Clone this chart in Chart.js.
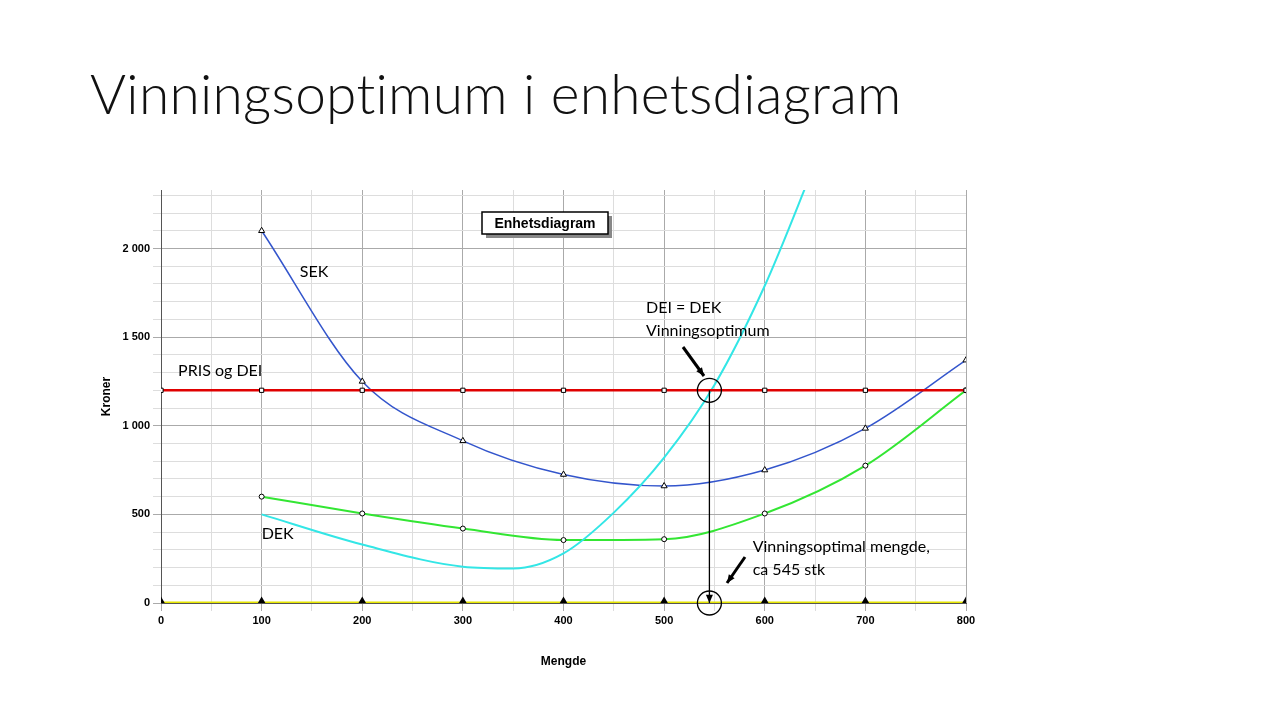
<!DOCTYPE html>
<html><head><meta charset="utf-8">
<script src="https://cdn.jsdelivr.net/npm/chart.js@4.4.0/dist/chart.umd.min.js"></script>
<style>
body{margin:0;background:#fff;width:1280px;height:720px;overflow:hidden;position:relative}
h1{position:absolute;left:90px;top:60px;margin:0;font:300 55px Lato,"Open Sans",sans-serif;color:#111;letter-spacing:0.3px}
#wrap{position:absolute;left:0;top:0;width:1280px;height:720px}
</style></head><body>
<h1>Vinningsoptimum i enhetsdiagram</h1>
<div id="wrap"><canvas id="c"></canvas></div>
<script>
const qtyMarks=[0,100,200,300,400,500,600,700,800];
const sek=[null,2100,1250,915,725,660,750,985,1370];
const dek=[null,600,505,420,355,360,505,775,1200];
const price=[1200,1200,1200,1200,1200,1200,1200,1200,1200];
const zero=[0,0,0,0,0,0,0,0,0];
const gekX=[100,200,300,350,400,450,500,550,600,650];
const gekY=[500,330,205,195,280,510,820,1230,1790,2480];
const optQty=545;

const pts=(xs,ys)=>xs.map((x,i)=>({x,y:ys[i]})).filter(p=>p.y!==null);

const ann={id:'ann',afterDatasetsDraw(ch){
 const c=ch.ctx,X=v=>ch.scales.x.getPixelForValue(v),Y=v=>ch.scales.y.getPixelForValue(v);
 c.save();
 c.fillStyle='#888';c.fillRect(486,216,126,22);
 c.fillStyle='#fff';c.strokeStyle='#000';c.lineWidth=1.5;c.fillRect(482,212,126,22);c.strokeRect(482,212,126,22);
 c.fillStyle='#000';c.font='bold 14px "Liberation Sans",Arial';c.textAlign='center';c.textBaseline='middle';c.fillText('Enhetsdiagram',545,224);
 c.font='16px Lato,"Open Sans",sans-serif';c.textAlign='left';
 c.fillText('SEK',X(138),Y(1870));
 c.fillText('PRIS og DEI',X(17),Y(1311));
 c.fillText('DEK',X(100),Y(390));
 c.fillText('DEI = DEK',X(482),Y(1667));
 c.fillText('Vinningsoptimum',X(482),Y(1537));
 c.fillText('Vinningsoptimal mengde,',X(588),Y(316));
 c.fillText('ca 545 stk',X(588),Y(186));
 c.strokeStyle='#000';c.lineWidth=1.3;
 [[X(optQty),Y(1200)],[X(optQty),Y(0)]].forEach(([x,y])=>{c.beginPath();c.arc(x,y,12,0,Math.PI*2);c.stroke();});
 function arrow(x1,y1,x2,y2,w){c.lineWidth=w;c.beginPath();c.moveTo(x1,y1);c.lineTo(x2,y2);c.stroke();
  const a=Math.atan2(y2-y1,x2-x1);c.beginPath();c.moveTo(x2,y2);c.lineTo(x2-9*Math.cos(a-0.4),y2-9*Math.sin(a-0.4));c.lineTo(x2-9*Math.cos(a+0.4),y2-9*Math.sin(a+0.4));c.closePath();c.fill();}
 arrow(X(optQty),Y(1200),X(optQty),Y(0),1.3);
 arrow(683,347,704,376,3);
 arrow(745,557,727,583,3);
 c.restore();
}};

new Chart(document.getElementById('c'),{
 type:'line',
 data:{datasets:[
  {data:pts(qtyMarks,zero),borderColor:'#e6e600',borderWidth:3,pointStyle:'triangle',pointRadius:3.5,pointBackgroundColor:'#000',pointBorderColor:'#000'},
  {data:pts(qtyMarks,zero),borderColor:'#000',borderWidth:1.5,borderDash:[5,4],pointRadius:0},
  {data:pts(qtyMarks,price),borderColor:'#e00000',borderWidth:2.5,pointStyle:'rect',pointRadius:3,pointBackgroundColor:'#fff',pointBorderColor:'#000',pointBorderWidth:1},
  {data:pts(qtyMarks,price),borderColor:'#000',borderWidth:1,borderDash:[5,4],pointRadius:0},
  {data:pts(gekX,gekY),borderColor:'#33e6e6',borderWidth:2,pointRadius:0,cubicInterpolationMode:'monotone'},
  {data:pts(qtyMarks,dek),borderColor:'#33e633',borderWidth:2,pointStyle:'circle',pointRadius:2.5,pointBackgroundColor:'#fff',pointBorderColor:'#000',pointBorderWidth:1,cubicInterpolationMode:'monotone'},
  {data:pts(qtyMarks,sek),borderColor:'#3355cc',borderWidth:1.5,pointStyle:'triangle',pointRadius:3.5,pointBackgroundColor:'#fff',pointBorderColor:'#000',pointBorderWidth:1,cubicInterpolationMode:'monotone'}
 ]},
 plugins:[ann],
 options:{responsive:true,maintainAspectRatio:false,animation:false,
  layout:{padding:{left:95,top:190,right:314,bottom:47}},
  plugins:{legend:{display:false},tooltip:{enabled:false}},
  scales:{
   x:{type:'linear',min:0,max:800,
    afterFit:s=>{s.height=70},
    ticks:{stepSize:50,autoSkip:false,maxRotation:0,color:'#000',font:{family:'"Liberation Sans",Arial',size:11,weight:'bold'},callback:v=>v%100===0?v:''},
    grid:{color:ctx=>ctx.tick&&ctx.tick.value%100===0?'#aaa':'#ddd',lineWidth:1},
    border:{color:'#555'},
    title:{display:true,text:'Mengde',color:'#000',font:{family:'"Liberation Sans",Arial',size:12,weight:'bold'},padding:{top:28}}},
   y:{min:0,max:2330,
    afterFit:s=>{s.width=66},
    afterBuildTicks:s=>{const t=[];for(let v=0;v<=2300;v+=100)t.push({value:v});s.ticks=t;},
    ticks:{autoSkip:false,color:'#000',font:{family:'"Liberation Sans",Arial',size:11,weight:'bold'},callback:v=>v%500===0?(v>=1000?String(v).replace(/(\d)(\d{3})$/,'$1 $2'):v):''},
    grid:{color:ctx=>ctx.tick&&ctx.tick.value%500===0?'#aaa':'#ddd',lineWidth:1},
    border:{color:'#555'},
    title:{display:true,text:'Kroner',color:'#000',font:{family:'"Liberation Sans",Arial',size:12,weight:'bold'}}}
  }}
});
</script></body></html>
